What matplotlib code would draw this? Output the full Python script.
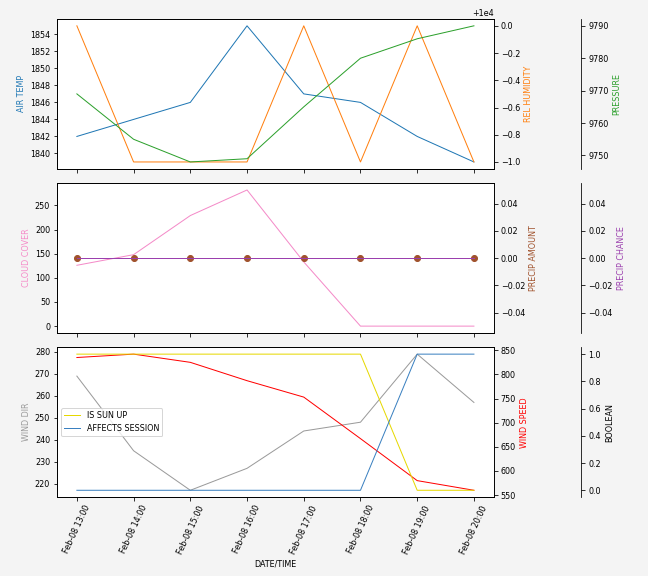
import matplotlib
matplotlib.use("Agg")
import matplotlib.pyplot as plt
import matplotlib.dates as mdates
import pandas as pd

# ── Datos ──────────────────────────────────────────────────────────────────────
times = pd.date_range("2024-02-08 13:00", periods=8, freq="h")
air_temp = [1842, 1844, 1846, 1855, 1847, 1846, 1842, 1839]
rel_humidity = [10000, 9999, 9999, 9999, 10000, 9999, 10000, 9999]
pressure = [9769, 9755, 9748, 9749, 9765, 9780, 9786, 9790]
cloud_cover = [126, 148, 229, 282, 133, 0, 0, 0]
precip_amount = [0, 0, 0, 0, 0, 0, 0, 0]
precip_chance = [0, 0, 0, 0, 0, 0, 0, 0]
wind_dir = [269, 235, 217, 227, 244, 248, 279, 257]
wind_speed = [835, 842, 825, 787, 753, 667, 580, 560]
is_sun_up = [1, 1, 1, 1, 1, 1, 0, 0]
affects_session = [0, 0, 0, 0, 0, 0, 1, 1]

plt.rcParams["font.size"] = 8

fig = plt.figure(figsize=(9, 8), dpi=72, facecolor="#f4f4f4")
left, width, height = 0.088, 0.674, 0.26
bottoms = [0.707, 0.422, 0.137]
axes = [fig.add_axes([left, b, width, height]) for b in bottoms]
for a in axes[1:]:
    a.sharex(axes[0])


def twin_pair(ax):
    t1 = ax.twinx()
    t2 = ax.twinx()
    t2.spines["right"].set_position(("axes", 1.2))
    return t1, t2


lw = 1
pink = "#f48ac8"
purple = "#9b3fae"
gray = "#9a9a9a"

# ── Panel 1: temperatura / humedad / presión ────────────────────────────────────
ax = axes[0]
h1, p1 = twin_pair(ax)
ax.plot(times, air_temp, color="tab:blue", lw=lw)
h1.plot(times, rel_humidity, color="tab:orange", lw=lw)
p1.plot(times, pressure, color="tab:green", lw=lw)
ax.set_ylabel("AIR TEMP", color="tab:blue")
h1.set_ylabel("REL HUMIDITY", color="tab:orange")
p1.set_ylabel("PRESSURE", color="tab:green")

# ── Panel 2: nubes / precipitación ──────────────────────────────────────────────
ax = axes[1]
a2, c2 = twin_pair(ax)
ax.plot(times, cloud_cover, color=pink, lw=lw)
a2.plot(times, precip_amount, color="sienna", marker="o", markersize=6, lw=lw)
c2.plot(times, precip_chance, color=purple, lw=lw)
ax.set_ylabel("CLOUD COVER", color=pink)
a2.set_ylabel("PRECIP AMOUNT", color="sienna")
c2.set_ylabel("PRECIP CHANCE", color=purple)

# ── Panel 3: viento / booleanos ─────────────────────────────────────────────────
ax = axes[2]
s3, b3 = twin_pair(ax)
ax.plot(times, wind_dir, color=gray, lw=lw)
s3.plot(times, wind_speed, color="red", lw=lw)
b3.plot(times, is_sun_up, color="#e6d800", lw=lw, label="IS SUN UP")
b3.plot(times, affects_session, color="#3a80c0", lw=lw, label="AFFECTS SESSION")
ax.set_ylabel("WIND DIR", color=gray)
s3.set_ylabel("WIND SPEED", color="red")
b3.set_ylabel("BOOLEAN", color="black")
b3.legend(loc="center left")

ax.set_xlabel("DATE/TIME")
ax.xaxis.set_major_locator(mdates.HourLocator())
ax.xaxis.set_major_formatter(mdates.DateFormatter("%b-%d %H:%M"))
for lab in ax.get_xticklabels():
    lab.set_rotation(65)
for a in axes[:2]:
    a.tick_params(labelbottom=False)

fig.savefig("out.png", dpi=72, facecolor=fig.get_facecolor())
